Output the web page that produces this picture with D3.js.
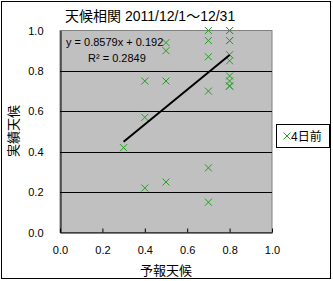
<!DOCTYPE html>
<html>
<head>
<meta charset="utf-8">
<script src="https://cdn.jsdelivr.net/npm/d3@7"></script>
<style>
  body { margin: 0; background: #fff; }
  text { font-family: "Liberation Sans", "Noto Sans CJK JP", sans-serif; }
</style>
</head>
<body>
<svg width="333" height="281"></svg>
<script>
const svg = d3.select('svg');

// forecast (x) vs actual (y), one pair per day
const forecast = [
  0.3,
  0.4, 0.4, 0.4,
  0.5, 0.5, 0.5, 0.5,
  0.7, 0.7, 0.7, 0.7, 0.7, 0.7,
  0.8, 0.8, 0.8, 0.8, 0.8, 0.8, 0.8, 0.8, 0.8, 0.8,
];
const actual = [
  0.42,
  0.75, 0.57, 0.22,
  0.94, 0.90, 0.75, 0.25,
  1.00, 0.95, 0.87, 0.70, 0.32, 0.15,
  1.00, 1.00, 0.95, 0.95, 0.88, 0.85, 0.775, 0.75, 0.725, 0.725,
];
const trendSlope = 0.8579;
const trendIntercept = 0.192;
const trendRange = [0.3, 0.8];
const ticks = [0, 0.2, 0.4, 0.6, 0.8, 1.0];

const x = d3.scaleLinear().domain([0, 1]).range([60, 272]);
const y = d3.scaleLinear().domain([0, 1]).range([232.5, 30.5]);

// outer border
svg.append('rect')
  .attr('x', 1.5).attr('y', 1.5)
  .attr('width', 329).attr('height', 277)
  .style('fill', 'none').style('stroke', '#000');

// plot area
svg.append('rect')
  .attr('x', x(0)).attr('y', y(1))
  .attr('width', x(1) - x(0)).attr('height', y(0) - y(1))
  .style('fill', '#c0c0c0').style('stroke', '#808080');

// gridlines
svg.selectAll('line.grid')
  .data(ticks.slice(1, -1))
  .enter()
  .append('line')
  .attr('x1', x(0)).attr('x2', x(1))
  .attr('y1', d => Math.round(y(d)) + 0.5)
  .attr('y2', d => Math.round(y(d)) + 0.5)
  .style('stroke', '#000');

// axes
const xAxis = d3.axisBottom(x).tickValues(ticks).tickFormat(d3.format('.1f'))
  .tickSizeInner(-4).tickSizeOuter(0).tickPadding(14);
const gx = svg.append('g').attr('transform', 'translate(0,232.5)').call(xAxis);
const yAxis = d3.axisLeft(y).tickValues(ticks).tickFormat(d3.format('.1f'))
  .tickSize(0).tickPadding(17);
const gy = svg.append('g').attr('transform', 'translate(60.5,0)').call(yAxis);
[gx, gy].forEach(g => {
  g.select('.domain').style('stroke', '#000');
  g.selectAll('line').style('stroke', '#000');
  g.selectAll('text').style('font-size', '11px').style('fill', '#000')
    .style('font-family', '"Liberation Sans", sans-serif');
});

// points
svg.selectAll('path.pt')
  .data(forecast.map((f, i) => [f, actual[i]]))
  .enter()
  .append('path')
  .attr('d', d => {
    const px = x(d[0]), py = y(d[1]), s = 3.5;
    return `M${px - s},${py - s}L${px + s},${py + s}M${px - s},${py + s}L${px + s},${py - s}`;
  })
  .style('stroke', '#22a022').style('stroke-width', 1).style('fill', 'none');

// trendline
svg.append('line')
  .attr('x1', x(trendRange[0])).attr('y1', y(trendSlope * trendRange[0] + trendIntercept))
  .attr('x2', x(trendRange[1])).attr('y2', y(trendSlope * trendRange[1] + trendIntercept))
  .style('stroke', '#000').style('stroke-width', 2);

svg.append('text').attr('x', 66).attr('y', 46)
  .style('font-size', '11px').text(`y = ${trendSlope}x + ${trendIntercept}`);
svg.append('text').attr('x', 88).attr('y', 62)
  .style('font-size', '11px').text('R² = 0.2849');

// title
svg.append('text').attr('x', 65).attr('y', 21)
  .style('font-size', '14px').text('天候相関 2011/12/1～12/31');

svg.append('text').attr('x', 166).attr('y', 275)
  .attr('text-anchor', 'middle').style('font-size', '13px').text('予報天候');
svg.append('text')
  .attr('transform', 'translate(18,131) rotate(-90)')
  .attr('text-anchor', 'middle').style('font-size', '13px').text('実績天候');

// legend
svg.append('rect')
  .attr('x', 276.5).attr('y', 124.5).attr('width', 53).attr('height', 23)
  .style('fill', '#fff').style('stroke', '#000');
svg.append('path')
  .attr('d', 'M283.5,132.5L290.5,139.5M283.5,139.5L290.5,132.5')
  .style('stroke', '#22a022').style('fill', 'none');
svg.append('text').attr('x', 291).attr('y', 140.5)
  .style('font-size', '12px').text('4日前');
</script>
</body>
</html>
